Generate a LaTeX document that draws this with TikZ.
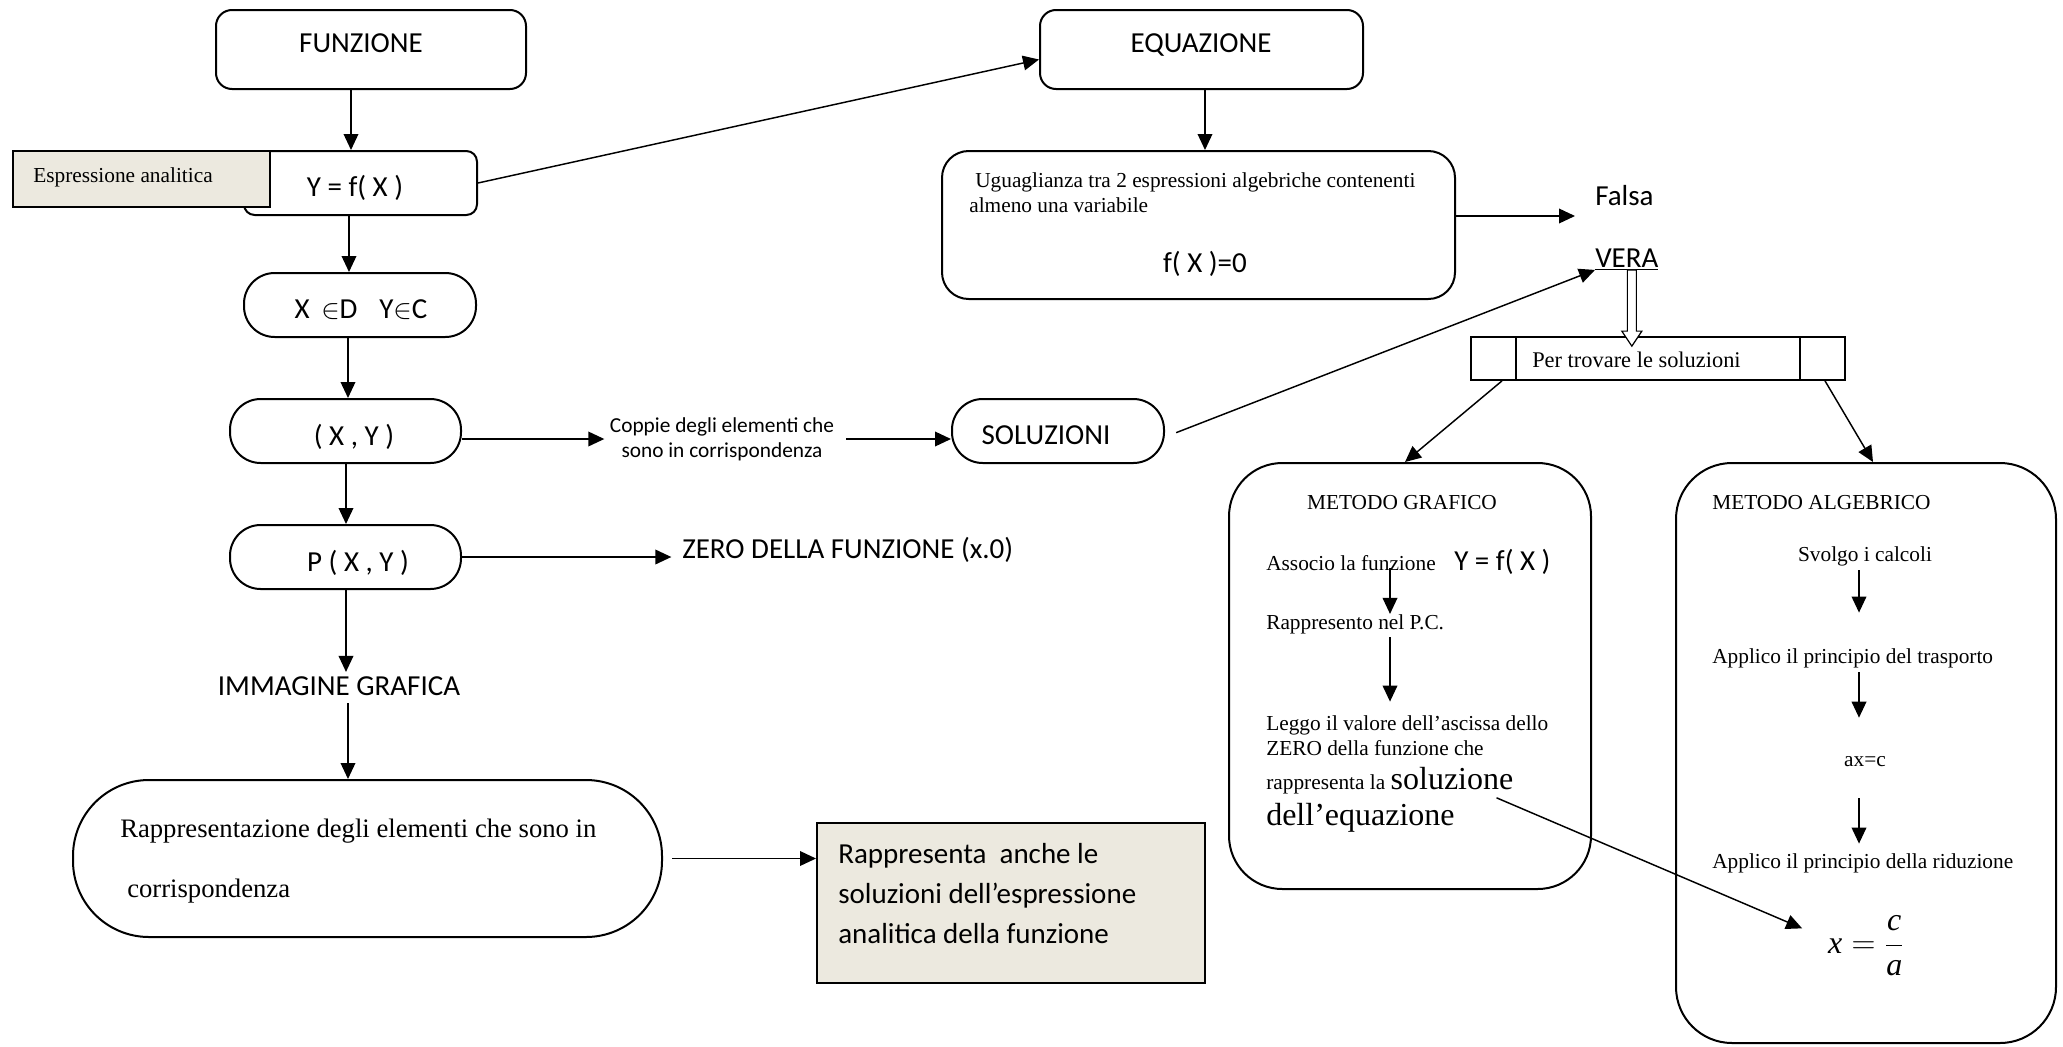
\documentclass[tikz,border=0pt]{standalone}
\usepackage{fontspec}
\setmainfont{Liberation Serif}
\newfontfamily\calib{Carlito}
\usetikzlibrary{arrows.meta,fit,calc}
\definecolor{beigebox}{RGB}{236,233,223}
\newcommand\myCal{\calib\fontsize{21.75}{26}\selectfont}
\newcommand\myCalS{\calib\fontsize{16}{18.75}\selectfont}
\newcommand\myTi{\fontsize{16}{19}\selectfont}
\newcommand\myTiM{\fontsize{20}{24}\selectfont}
\newcommand\myTiL{\fontsize{24}{28}\selectfont}
\newcommand\myTiT{\fontsize{16.8}{20}\selectfont}
\begin{document}
\begin{tikzpicture}[x=0.75pt,y=-0.75pt,
  box/.style={draw,line width=1.5pt,inner sep=0pt},
  arr/.style={draw,line width=1.1pt,-{Triangle[length=12pt,width=11pt]}},
  tw/.style={inner sep=0pt,anchor=base west},
  tc/.style={inner sep=0pt,anchor=base}]
\fill[white] (0,0) rectangle (2063,1046);
\useasboundingbox (0,0) rectangle (2063,1046);

% helper columns / rows
\coordinate (colA) at (351,0);
\coordinate (colB) at (349,0);
\coordinate (colC) at (348,0);
\coordinate (colD) at (346,0);
\coordinate (colE) at (348,0);
\coordinate (colF) at (1205,0);
\coordinate (rowF) at (0,216);
\coordinate (colT1) at (1502,0);
\coordinate (colG1) at (1405,0);
\coordinate (colT2) at (1825,0);
\coordinate (colA2) at (1873,0);
\coordinate (colG) at (1390,0);
\coordinate (colH) at (1859,0);

% ---------- left column ----------
\node[box,rounded corners=12pt,fit={(216,10)(526,89)}] (fun) {};
\node[tc] (funT) at (361,52) {\myCal FUNZIONE};

\node[box,rounded corners=8pt,fit={(244,151)(477,215)}] (yf) {};
\node[tc] (yfT) at (355,196) {\myCal Y = f( X )};
\node[box,fill=beigebox,fit={(13,151)(270,207)}] (espr) {};
\node[tw] (esprT) at (33,182) {\myTi Espressione analitica};

\node[box,rounded corners=23pt,fit={(244,273)(476,337)}] (xd) {};
\node[tc] (xdT) at (361,318) {\myCal X\hspace{0.4em}$\in$D\hspace{0.75em}Y$\in$C};

\node[box,rounded corners=23pt,fit={(230,399)(461,463)}] (xy) {};
\node[tc] (xyT) at (354,445) {\myCal ( X , Y )};

\node[box,rounded corners=23pt,fit={(230,525)(461,589)}] (pxy) {};
\node[tc] (pxyT) at (358,571) {\myCal P ( X , Y )};

\node[inner sep=4pt,align=center,font=\myCalS] (coppie) at (722,439) {Coppie degli elementi che\\ sono in corrispondenza};

\node[box,rounded corners=23pt,fit={(952,399)(1164,463)}] (sol) {};
\node[tc] (solT) at (1046,444) {\myCal SOLUZIONI};

\node[tw] (zero) at (682,558) {\myCal ZERO DELLA FUNZIONE (x.0)};
\node[tc] (imm) at (339,695) {\myCal IMMAGINE GRAFICA};

\node[box,rounded corners=57pt,fit={(73,780)(662,937)}] (rapp) {};
\node[tw] (rapp1) at (120,837) {\myTiM Rappresentazione degli elementi che sono in};
\node[tw] (rapp2) at (127,897) {\myTiM corrispondenza};

\node[box,fill=beigebox,fit={(817,823)(1205,983)}] (beige) {};
\node[tw] (b1) at (838,863) {\myCal Rappresenta\ \ anche le};
\node[tw] (b2) at (838,903) {\myCal soluzioni dell’espressione};
\node[tw] (b3) at (838,943) {\myCal analitica della funzione};

% ---------- equazione ----------
\node[box,rounded corners=12pt,fit={(1040,10)(1363,89)}] (equ) {};
\node[tc] (equT) at (1201,52) {\myCal EQUAZIONE};

\node[box,rounded corners=20pt,fit={(942,151)(1455,299)}] (ugu) {};
\node[tw] (ugu1) at (975,187) {\myTi Uguaglianza tra 2 espressioni algebriche contenenti};
\node[tw] (ugu2) at (969,212) {\myTi almeno una variabile};
\node[tc] (ugu3) at (1205,272) {\myCal f( X )=0};

\node[tw] (falsa) at (1595,205) {\myCal Falsa};
\node[tw] (vera) at (1595,267) {\myCal\underline{VERA}};

\node[box,line width=1.3pt,fit={(1471,337)(1845,380)}] (trov) {};
\draw[line width=1.3pt] (1516,337) -- (1516,380);
\draw[line width=1.3pt] (1800,337) -- (1800,380);
\node[tw] (trovT) at (1532,367) {\myTiT Per trovare le soluzioni};

% ---------- metodo grafico ----------
\node[box,rounded corners=40pt,fit={(1229,463)(1591,889)}] (graf) {};
\node[tc] (mgT) at (1402,509) {\myTi METODO GRAFICO};
\node[tw] (assoc) at (1266,570) {\myTi Associo la funzione};
\node[tw] (assocY) at (1454,570) {\myCal Y = f( X )};
\node[tw] (rappr) at (1266,629) {\myTi Rappresento nel P.C.};
\node[tw] (leg1) at (1266,730) {\myTi Leggo il valore dell’ascissa dello};
\node[tw] (leg2) at (1266,755) {\myTi ZERO della funzione che};
\node[tw] (leg3) at (1266,789) {\myTi rappresenta la {\myTiL soluzione}};
\node[tw] (leg4) at (1266,825) {\myTiL dell’equazione};

% ---------- metodo algebrico ----------
\node[box,rounded corners=42pt,fit={(1676,463)(2056,1043)}] (alg) {};
\node[tw] (maT) at (1712,509) {\myTi METODO ALGEBRICO};
\node[tc] (svolgo) at (1865,561) {\myTi Svolgo i calcoli};
\node[tw] (appl1) at (1712,663) {\myTi Applico il principio del trasporto};
\node[tc] (axc) at (1865,766) {\myTi ax=c};
\node[tw] (appl2) at (1712,868) {\myTi Applico il principio della riduzione};
\node[inner sep=0pt] (xfrac) at (1866,946) {\myTiL $\textit{x} = {\displaystyle\frac{\textit{c}}{\textit{a}}}$};

% ---------- connectors ----------
\draw[arr] (fun.south -| colA) -- (yf.north -| colA);
\draw[arr] (yf.south -| colB) -- (xd.north -| colB);
\draw[arr] (xd.south -| colC) -- (xy.north -| colC);
\draw[arr] (xy.south -| colD) -- (pxy.north -| colD);
\draw[arr,shorten >=3pt] (pxy.south -| colD) -- (imm.north -| colD);
\draw[arr,shorten <=6pt] (imm.south -| colE) -- (rapp.north -| colE);
\draw[arr] (xy.east |- coppie) -- (coppie.west);
\draw[arr,shorten <=5pt] (coppie.east) -- (sol.west |- coppie.east);
\draw[arr,shorten >=8pt] (pxy.east) -- (pxy.east -| zero.west);
\draw[arr,shorten <=7pt] (rapp.east) -- (rapp.east -| beige.west);
\draw[arr] (yf.east) -- ([yshift=-7.5pt]equ.west);
\draw[arr] (equ.south -| colF) -- (ugu.north -| colF);
\draw[arr,shorten >=15pt] (ugu.east |- rowF) -- (falsa.west |- rowF);
\draw[arr,shorten <=9pt] ([yshift=-4.5pt]sol.east) -- (vera.south west);
\draw[arr] (trov.south -| colT1) -- (graf.north -| colG1);
\draw[arr] (trov.south -| colT2) -- (alg.north -| colA2);
\draw[arr,shorten <=-2pt] (assoc.south -| colG) -- (rappr.north -| colG);
\draw[arr,shorten <=2.5pt,shorten >=10pt] (rappr.south -| colG) -- (leg1.north -| colG);
\draw[arr,shorten <=3.3pt,shorten >=26.5pt] (svolgo.south -| colH) -- (appl1.north -| colH);
\draw[arr,shorten <=3.3pt,shorten >=28.5pt] (appl1.south -| colH) -- (axc.north -| colH);
\draw[arr,shorten <=24pt,shorten >=7pt] (axc.south -| colH) -- (appl2.north -| colH);
\draw[arr,shorten >=21pt] ([shift={(-12.75pt,-3pt)}]leg3.south east) -- ([yshift=5pt]xfrac.west);

% hollow block arrow VERA -> Per trovare
\path ([xshift=3.75pt]vera.south) coordinate (dvt);
\path (dvt |- trov.north) coordinate (dvb);
\draw[line width=0.9pt,fill=white] ($(dvt)+(-4.5,0)$) -- ($(dvt)+(4.5,0)$) -- ($(dvb)+(4.5,-5)$) -- ($(dvb)+(10,-5)$) -- ($(dvb)+(0,10)$) -- ($(dvb)+(-10,-5)$) -- ($(dvb)+(-4.5,-5)$) -- cycle;
\end{tikzpicture}
\end{document}
